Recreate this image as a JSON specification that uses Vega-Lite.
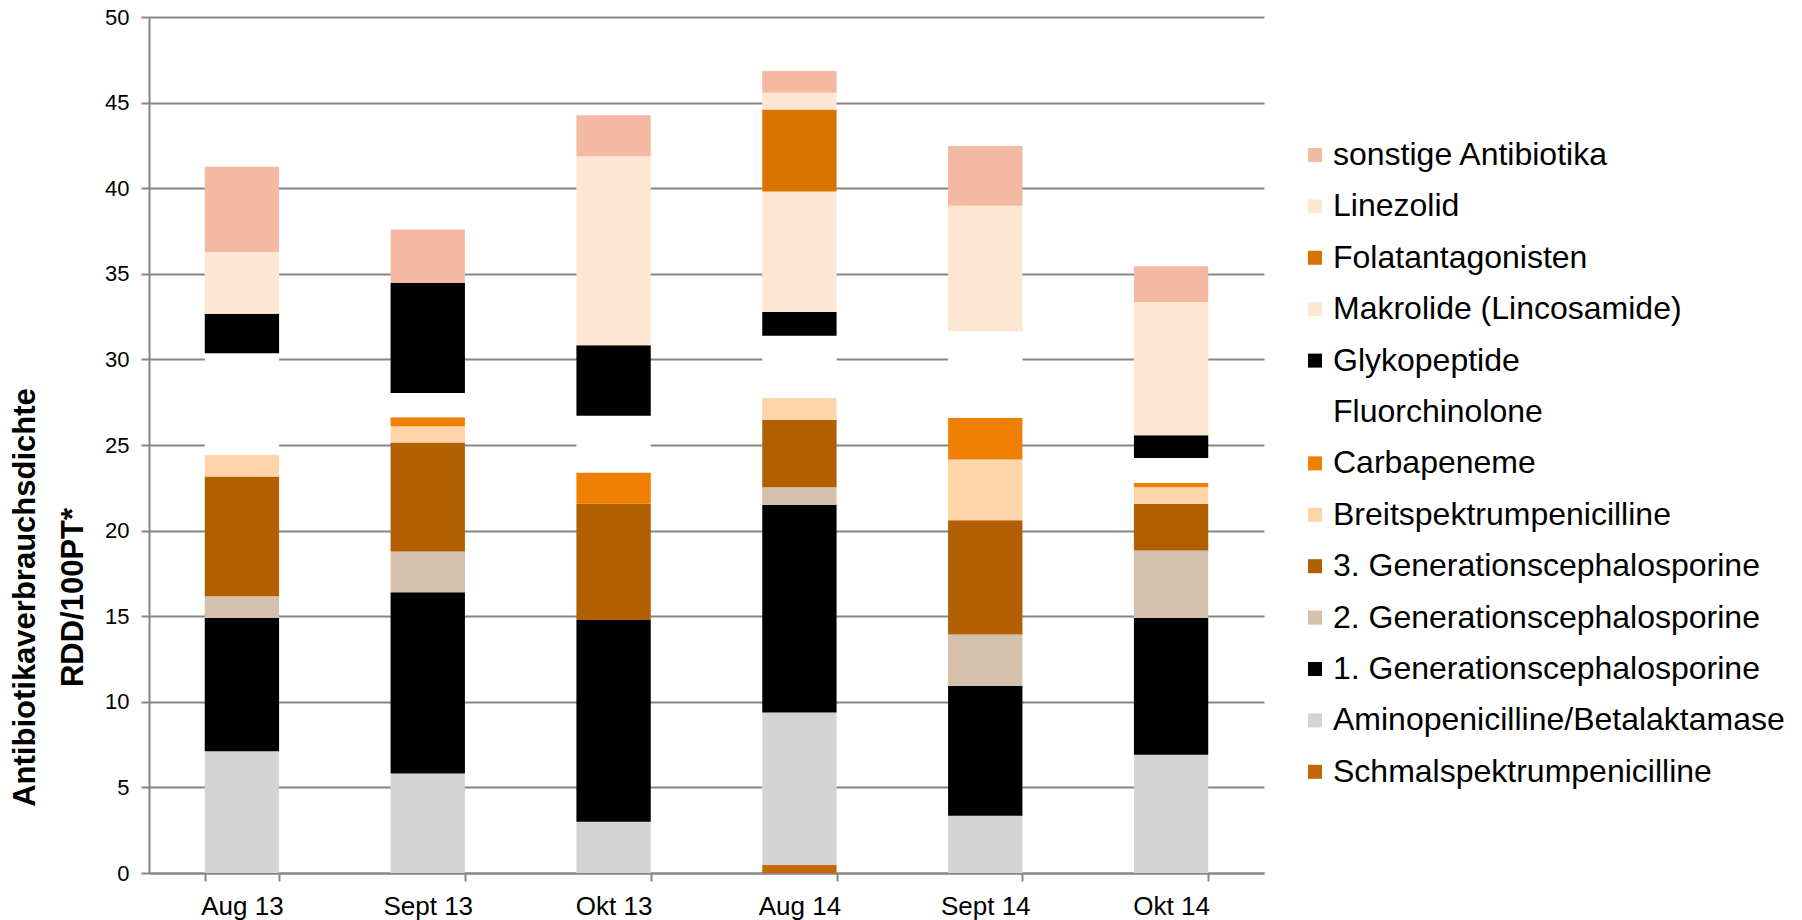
{
  "$schema": "https://vega.github.io/schema/vega-lite/v6.json",
  "autosize": {"type": "none"},
  "width": 1115,
  "height": 856,
  "padding": {"left": 149, "top": 17, "right": 538, "bottom": 47},
  "background": "white",
  "data": {
    "values": [
      {"monat": "Aug 13", "klasse": "Aminopenicilline/Betalaktamase", "ord": 2, "wert": 7.11},
      {"monat": "Aug 13", "klasse": "1. Generationscephalosporine", "ord": 3, "wert": 7.78},
      {"monat": "Aug 13", "klasse": "2. Generationscephalosporine", "ord": 4, "wert": 1.28},
      {"monat": "Aug 13", "klasse": "3. Generationscephalosporine", "ord": 5, "wert": 6.99},
      {"monat": "Aug 13", "klasse": "Breitspektrumpenicilline", "ord": 6, "wert": 1.25},
      {"monat": "Aug 13", "klasse": "Fluorchinolone", "ord": 8, "wert": 5.95},
      {"monat": "Aug 13", "klasse": "Glykopeptide", "ord": 9, "wert": 2.30},
      {"monat": "Aug 13", "klasse": "Makrolide (Lincosamide)", "ord": 10, "wert": 3.62},
      {"monat": "Aug 13", "klasse": "sonstige Antibiotika", "ord": 13, "wert": 4.97},

      {"monat": "Sept 13", "klasse": "Aminopenicilline/Betalaktamase", "ord": 2, "wert": 5.81},
      {"monat": "Sept 13", "klasse": "1. Generationscephalosporine", "ord": 3, "wert": 10.59},
      {"monat": "Sept 13", "klasse": "2. Generationscephalosporine", "ord": 4, "wert": 2.38},
      {"monat": "Sept 13", "klasse": "3. Generationscephalosporine", "ord": 5, "wert": 6.36},
      {"monat": "Sept 13", "klasse": "Breitspektrumpenicilline", "ord": 6, "wert": 0.96},
      {"monat": "Sept 13", "klasse": "Carbapeneme", "ord": 7, "wert": 0.52},
      {"monat": "Sept 13", "klasse": "Fluorchinolone", "ord": 8, "wert": 1.42},
      {"monat": "Sept 13", "klasse": "Glykopeptide", "ord": 9, "wert": 6.44},
      {"monat": "Sept 13", "klasse": "sonstige Antibiotika", "ord": 13, "wert": 3.11},

      {"monat": "Okt 13", "klasse": "Aminopenicilline/Betalaktamase", "ord": 2, "wert": 2.99},
      {"monat": "Okt 13", "klasse": "1. Generationscephalosporine", "ord": 3, "wert": 11.79},
      {"monat": "Okt 13", "klasse": "3. Generationscephalosporine", "ord": 5, "wert": 6.79},
      {"monat": "Okt 13", "klasse": "Carbapeneme", "ord": 7, "wert": 1.83},
      {"monat": "Okt 13", "klasse": "Fluorchinolone", "ord": 8, "wert": 3.31},
      {"monat": "Okt 13", "klasse": "Glykopeptide", "ord": 9, "wert": 4.12},
      {"monat": "Okt 13", "klasse": "Makrolide (Lincosamide)", "ord": 10, "wert": 11.04},
      {"monat": "Okt 13", "klasse": "sonstige Antibiotika", "ord": 13, "wert": 2.39},

      {"monat": "Aug 14", "klasse": "Schmalspektrumpenicilline", "ord": 1, "wert": 0.46},
      {"monat": "Aug 14", "klasse": "Aminopenicilline/Betalaktamase", "ord": 2, "wert": 8.92},
      {"monat": "Aug 14", "klasse": "1. Generationscephalosporine", "ord": 3, "wert": 12.13},
      {"monat": "Aug 14", "klasse": "2. Generationscephalosporine", "ord": 4, "wert": 1.02},
      {"monat": "Aug 14", "klasse": "3. Generationscephalosporine", "ord": 5, "wert": 3.94},
      {"monat": "Aug 14", "klasse": "Breitspektrumpenicilline", "ord": 6, "wert": 1.28},
      {"monat": "Aug 14", "klasse": "Fluorchinolone", "ord": 8, "wert": 3.63},
      {"monat": "Aug 14", "klasse": "Glykopeptide", "ord": 9, "wert": 1.39},
      {"monat": "Aug 14", "klasse": "Makrolide (Lincosamide)", "ord": 10, "wert": 7.03},
      {"monat": "Aug 14", "klasse": "Folatantagonisten", "ord": 11, "wert": 4.79},
      {"monat": "Aug 14", "klasse": "Linezolid", "ord": 12, "wert": 0.99},
      {"monat": "Aug 14", "klasse": "sonstige Antibiotika", "ord": 13, "wert": 1.27},

      {"monat": "Sept 14", "klasse": "Aminopenicilline/Betalaktamase", "ord": 2, "wert": 3.34},
      {"monat": "Sept 14", "klasse": "1. Generationscephalosporine", "ord": 3, "wert": 7.60},
      {"monat": "Sept 14", "klasse": "2. Generationscephalosporine", "ord": 4, "wert": 2.99},
      {"monat": "Sept 14", "klasse": "3. Generationscephalosporine", "ord": 5, "wert": 6.68},
      {"monat": "Sept 14", "klasse": "Breitspektrumpenicilline", "ord": 6, "wert": 3.54},
      {"monat": "Sept 14", "klasse": "Carbapeneme", "ord": 7, "wert": 2.44},
      {"monat": "Sept 14", "klasse": "Fluorchinolone", "ord": 8, "wert": 5.05},
      {"monat": "Sept 14", "klasse": "Makrolide (Lincosamide)", "ord": 10, "wert": 7.34},
      {"monat": "Sept 14", "klasse": "sonstige Antibiotika", "ord": 13, "wert": 3.49},

      {"monat": "Okt 14", "klasse": "Aminopenicilline/Betalaktamase", "ord": 2, "wert": 6.91},
      {"monat": "Okt 14", "klasse": "1. Generationscephalosporine", "ord": 3, "wert": 7.98},
      {"monat": "Okt 14", "klasse": "2. Generationscephalosporine", "ord": 4, "wert": 3.95},
      {"monat": "Okt 14", "klasse": "3. Generationscephalosporine", "ord": 5, "wert": 2.73},
      {"monat": "Okt 14", "klasse": "Breitspektrumpenicilline", "ord": 6, "wert": 0.96},
      {"monat": "Okt 14", "klasse": "Carbapeneme", "ord": 7, "wert": 0.26},
      {"monat": "Okt 14", "klasse": "Fluorchinolone", "ord": 8, "wert": 1.45},
      {"monat": "Okt 14", "klasse": "Glykopeptide", "ord": 9, "wert": 1.33},
      {"monat": "Okt 14", "klasse": "Makrolide (Lincosamide)", "ord": 10, "wert": 7.78},
      {"monat": "Okt 14", "klasse": "sonstige Antibiotika", "ord": 13, "wert": 2.09}
    ]
  },
  "mark": {"type": "bar"},
  "encoding": {
    "x": {
      "field": "monat",
      "type": "nominal",
      "sort": ["Aug 13", "Sept 13", "Okt 13", "Aug 14", "Sept 14", "Okt 14"],
      "scale": {"paddingInner": 0.6, "paddingOuter": 0.3},
      "axis": {
        "title": null,
        "labelAngle": 0,
        "labelFont": "Liberation Sans",
        "labelFontSize": 26,
        "labelColor": "#000000",
        "labelPadding": 12,
        "tickBand": "extent",
        "tickSize": 8,
        "tickColor": "#868686",
        "tickWidth": 2,
        "domainColor": "#868686",
        "domainWidth": 2,
        "grid": false
      }
    },
    "y": {
      "field": "wert",
      "type": "quantitative",
      "aggregate": "sum",
      "stack": "zero",
      "scale": {"domain": [0, 50], "nice": false},
      "axis": {
        "values": [0, 5, 10, 15, 20, 25, 30, 35, 40, 45, 50],
        "title": ["Antibiotikaverbrauchsdichte", "RDD/100PT*"],
        "titleFont": "Liberation Sans",
        "titleFontWeight": "bold",
        "titleFontSize": 31,
        "titleColor": "#000000",
        "titleAngle": 270,
        "titleAlign": "center",
        "titleBaseline": "top",
        "titleLineHeight": 48,
        "titleX": -139,
        "titleY": 580,
        "labelFont": "Liberation Sans",
        "labelFontSize": 22,
        "labelColor": "#000000",
        "labelPadding": 12,
        "tickSize": 8,
        "tickColor": "#868686",
        "tickWidth": 2,
        "domainColor": "#868686",
        "domainWidth": 2,
        "grid": true,
        "gridColor": "#868686",
        "gridWidth": 2
      }
    },
    "color": {
      "field": "klasse",
      "type": "nominal",
      "scale": {
        "domain": ["sonstige Antibiotika", "Linezolid", "Folatantagonisten", "Makrolide (Lincosamide)", "Glykopeptide", "Fluorchinolone", "Carbapeneme", "Breitspektrumpenicilline", "3. Generationscephalosporine", "2. Generationscephalosporine", "1. Generationscephalosporine", "Aminopenicilline/Betalaktamase", "Schmalspektrumpenicilline"],
        "range": ["#F4B9A2", "#FEE7D2", "#D87300", "#FEE7D2", "#000000", "#FFFFFF", "#EF7F00", "#FDD5A9", "#B15F00", "#D4C0AB", "#000000", "#D4D4D4", "#C56803"]
      },
      "legend": {
        "title": null,
        "orient": "none",
        "legendX": 1150,
        "legendY": 122,
        "symbolType": "square",
        "symbolSize": 196,
        "symbolStrokeWidth": 0,
        "labelFont": "Liberation Sans",
        "labelFontSize": 32,
        "labelColor": "#000000",
        "labelOffset": 2,
        "labelLimit": 700,
        "rowPadding": 19.4
      }
    },
    "order": {"field": "ord", "type": "quantitative", "sort": "ascending"}
  },
  "config": {
    "view": {"stroke": null},
    "bar": {"stroke": null}
  }
}
